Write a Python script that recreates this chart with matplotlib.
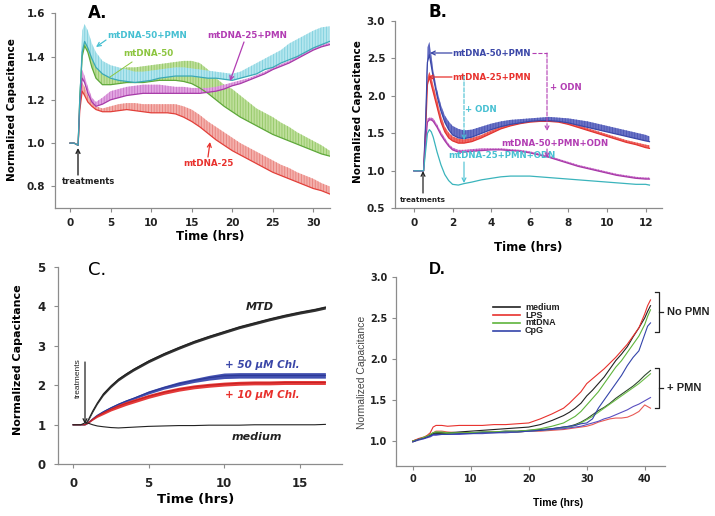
import numpy as np
import matplotlib
matplotlib.use("Agg")
import matplotlib.pyplot as plt
from matplotlib.lines import Line2D
from matplotlib.patches import FancyArrowPatch

plt.rcParams['font.family'] = ['DejaVu Sans']
plt.rcParams['font.weight'] = 'bold'
plt.rcParams['hatch.linewidth'] = 0.6

# ---------------- panel A data (mean line + upper error) ----------------
tA = [0, 0.5, 1.0, 1.2, 1.5, 1.8, 2.2, 2.7, 3.2, 4, 5, 6, 7, 8, 9, 10, 11, 12, 13,
      14, 15, 16, 17, 18, 19, 20, 21, 22, 23, 24, 25, 26, 27, 28, 29, 30, 31, 32]
a_pmn50 = [1.00, 1.00, 0.99, 1.20, 1.42, 1.47, 1.44, 1.39, 1.35, 1.32, 1.30, 1.29, 1.285,
           1.28, 1.285, 1.29, 1.30, 1.305, 1.31, 1.31, 1.31, 1.305, 1.30, 1.30, 1.295, 1.29,
           1.30, 1.31, 1.32, 1.34, 1.35, 1.37, 1.385, 1.40, 1.42, 1.44, 1.455, 1.47]
a_pmn50_hi = [1.00, 1.00, 0.99, 1.25, 1.52, 1.55, 1.52, 1.46, 1.42, 1.38, 1.36, 1.35, 1.34,
              1.33, 1.33, 1.335, 1.34, 1.345, 1.35, 1.35, 1.345, 1.34, 1.335, 1.33, 1.325,
              1.32, 1.33, 1.35, 1.37, 1.39, 1.41, 1.43, 1.46, 1.48, 1.50, 1.52, 1.535, 1.54]
a_50 = [1.00, 1.00, 0.99, 1.20, 1.40, 1.45, 1.42, 1.35, 1.30, 1.27, 1.27, 1.275, 1.28,
        1.28, 1.28, 1.285, 1.29, 1.29, 1.29, 1.285, 1.275, 1.255, 1.23, 1.20, 1.17, 1.145,
        1.12, 1.10, 1.08, 1.06, 1.04, 1.025, 1.01, 0.995, 0.98, 0.965, 0.95, 0.94]
a_50_hi = [1.00, 1.00, 0.99, 1.22, 1.44, 1.48, 1.46, 1.40, 1.35, 1.33, 1.33, 1.34, 1.35,
           1.35, 1.355, 1.36, 1.365, 1.37, 1.375, 1.38, 1.38, 1.37, 1.34, 1.30, 1.27, 1.25,
           1.22, 1.19, 1.16, 1.14, 1.12, 1.095, 1.075, 1.05, 1.03, 1.01, 0.99, 0.965]
a_pmn25 = [1.00, 1.00, 0.99, 1.18, 1.30, 1.28, 1.23, 1.19, 1.17, 1.18, 1.20, 1.21, 1.22,
           1.225, 1.23, 1.23, 1.23, 1.23, 1.23, 1.23, 1.23, 1.23, 1.235, 1.24, 1.25, 1.265,
           1.275, 1.29, 1.305, 1.32, 1.34, 1.355, 1.37, 1.39, 1.41, 1.43, 1.445, 1.455]
a_pmn25_hi = [1.00, 1.00, 0.99, 1.22, 1.34, 1.31, 1.26, 1.21, 1.19, 1.21, 1.24, 1.25, 1.26,
              1.265, 1.27, 1.27, 1.27, 1.265, 1.26, 1.26, 1.255, 1.255, 1.255, 1.26, 1.27,
              1.28, 1.29, 1.30, 1.315, 1.33, 1.35, 1.365, 1.38, 1.40, 1.42, 1.44, 1.455, 1.465]
a_25 = [1.00, 1.00, 0.99, 1.15, 1.24, 1.22, 1.19, 1.17, 1.155, 1.145, 1.145, 1.15, 1.155,
        1.15, 1.145, 1.14, 1.14, 1.14, 1.135, 1.12, 1.10, 1.075, 1.045, 1.015, 0.99, 0.965,
        0.945, 0.925, 0.905, 0.885, 0.865, 0.85, 0.835, 0.82, 0.805, 0.79, 0.78, 0.765]
a_25_hi = [1.00, 1.00, 0.99, 1.20, 1.28, 1.26, 1.22, 1.19, 1.17, 1.16, 1.17, 1.18, 1.185,
           1.185, 1.18, 1.18, 1.18, 1.18, 1.18, 1.17, 1.155, 1.13, 1.10, 1.075, 1.05, 1.025,
           1.0, 0.98, 0.96, 0.94, 0.92, 0.90, 0.885, 0.865, 0.85, 0.835, 0.815, 0.80]

# ---------------- panel B data ----------------
tB = [0, 0.3, 0.5, 0.6, 0.7, 0.8, 0.9, 1.0, 1.2, 1.4, 1.6, 1.8, 2.0, 2.3, 2.6, 3.0, 3.5,
      4, 4.5, 5, 5.5, 6, 6.5, 7, 7.5, 8, 8.5, 9, 9.5, 10, 10.5, 11, 11.5, 12, 12.2]
b_pmn50 = [1.0, 1.0, 1.0, 1.6, 2.45, 2.55, 2.40, 2.25, 2.0, 1.8, 1.65, 1.55, 1.48, 1.44,
           1.43, 1.45, 1.50, 1.55, 1.59, 1.62, 1.64, 1.66, 1.67, 1.67, 1.66, 1.64, 1.61,
           1.58, 1.55, 1.52, 1.49, 1.46, 1.43, 1.40, 1.39]
b_pmn50_hi = [1.0, 1.0, 1.0, 1.75, 2.65, 2.72, 2.55, 2.35, 2.08, 1.88, 1.74, 1.66, 1.60,
              1.56, 1.54, 1.55, 1.59, 1.63, 1.66, 1.68, 1.69, 1.70, 1.71, 1.72, 1.71, 1.70,
              1.68, 1.66, 1.63, 1.60, 1.57, 1.54, 1.51, 1.48, 1.46]
b_pmn25 = [1.0, 1.0, 1.0, 1.5, 2.15, 2.25, 2.15, 2.05, 1.85, 1.65, 1.52, 1.44, 1.40, 1.37,
           1.37, 1.39, 1.44, 1.50, 1.56, 1.60, 1.63, 1.65, 1.66, 1.66, 1.65, 1.62, 1.58,
           1.54, 1.50, 1.46, 1.42, 1.38, 1.35, 1.31, 1.30]
b_pmn25_hi = [1.0, 1.0, 1.0, 1.55, 2.25, 2.32, 2.25, 2.15, 1.95, 1.74, 1.59, 1.51, 1.46,
              1.43, 1.42, 1.44, 1.48, 1.54, 1.59, 1.63, 1.66, 1.68, 1.69, 1.69, 1.68, 1.65,
              1.61, 1.57, 1.53, 1.49, 1.45, 1.41, 1.38, 1.35, 1.34]
b_pmn50_odn = [1.0, 1.0, 1.0, 1.35, 1.65, 1.68, 1.68, 1.66, 1.58, 1.48, 1.40, 1.33, 1.28,
               1.25, 1.25, 1.26, 1.27, 1.28, 1.28, 1.27, 1.26, 1.24, 1.21, 1.18, 1.14, 1.10,
               1.06, 1.03, 1.00, 0.97, 0.94, 0.92, 0.90, 0.89, 0.89]
b_pmn50_odn_hi = [1.0, 1.0, 1.0, 1.40, 1.70, 1.71, 1.71, 1.70, 1.62, 1.52, 1.44, 1.36,
                  1.31, 1.28, 1.28, 1.29, 1.30, 1.30, 1.30, 1.29, 1.28, 1.26, 1.23, 1.20,
                  1.16, 1.12, 1.08, 1.05, 1.02, 0.99, 0.96, 0.94, 0.92, 0.91, 0.91]
b_pmn25_odn = [1.0, 1.0, 1.0, 1.25, 1.50, 1.55, 1.52, 1.45, 1.25, 1.08, 0.95, 0.87, 0.82,
               0.81, 0.83, 0.85, 0.88, 0.90, 0.92, 0.93, 0.93, 0.93, 0.92, 0.91, 0.90, 0.89,
               0.88, 0.87, 0.86, 0.85, 0.84, 0.83, 0.82, 0.82, 0.81]

# ---------------- panel C data ----------------
tC = [0, 0.5, 0.8, 1.0, 1.3, 1.6, 2.0, 2.5, 3, 3.5, 4, 5, 6, 7, 8, 9, 10, 11, 12, 13,
      14, 15, 16, 16.7]
c_mtd = [1.0, 1.0, 1.0, 1.12, 1.35, 1.55, 1.78, 1.98, 2.15, 2.28, 2.40, 2.61, 2.79, 2.95,
         3.10, 3.23, 3.35, 3.47, 3.57, 3.67, 3.76, 3.84, 3.91, 3.97]
c_mtd_err = [0.0, 0.0, 0.0, 0.02, 0.03, 0.03, 0.04, 0.04, 0.04, 0.04, 0.04, 0.04, 0.04,
             0.04, 0.04, 0.04, 0.04, 0.04, 0.04, 0.04, 0.04, 0.04, 0.04, 0.04]
c_chl50 = [1.0, 1.0, 1.0, 1.05, 1.15, 1.24, 1.33, 1.43, 1.52, 1.60, 1.67, 1.82, 1.94,
           2.04, 2.12, 2.19, 2.24, 2.25, 2.25, 2.25, 2.25, 2.25, 2.25, 2.25]
c_chl50_err = [0.0, 0.0, 0.0, 0.01, 0.02, 0.02, 0.03, 0.03, 0.03, 0.03, 0.03, 0.04, 0.04,
               0.05, 0.05, 0.06, 0.07, 0.07, 0.07, 0.07, 0.07, 0.07, 0.07, 0.07]
c_chl10 = [1.0, 1.0, 1.0, 1.05, 1.14, 1.22, 1.30, 1.39, 1.47, 1.54, 1.60, 1.72, 1.82,
           1.90, 1.96, 2.00, 2.03, 2.05, 2.06, 2.06, 2.07, 2.07, 2.07, 2.07]
c_chl10_err = [0.0, 0.0, 0.0, 0.01, 0.02, 0.03, 0.04, 0.04, 0.05, 0.05, 0.05, 0.05, 0.05,
               0.05, 0.05, 0.05, 0.05, 0.05, 0.05, 0.05, 0.05, 0.05, 0.05, 0.05]
c_medium = [1.0, 1.0, 1.05, 1.04, 1.0, 0.97, 0.95, 0.93, 0.92, 0.93, 0.94, 0.96, 0.97,
            0.98, 0.98, 0.99, 0.99, 0.99, 1.0, 1.0, 1.0, 1.0, 1.0, 1.01]

# ---------------- panel D data ----------------
tD = [0, 1, 2, 2.5, 3, 3.5, 4, 5, 6, 8, 10, 12, 14, 16, 18, 20, 22, 24, 26, 27, 28, 29,
      30, 31, 32, 33, 34, 35, 36, 37, 38, 39, 40, 40.5, 41]
d_labels = ['medium', 'LPS', 'mtDNA', 'CpG']
d_nopmn = {
    'medium': [0.99, 1.02, 1.04, 1.05, 1.07, 1.09, 1.10, 1.10, 1.10, 1.11, 1.12, 1.13, 1.14,
               1.15, 1.16, 1.17, 1.20, 1.25, 1.31, 1.35, 1.40, 1.46, 1.55, 1.62, 1.70, 1.78,
               1.88, 1.98, 2.06, 2.15, 2.27, 2.38, 2.50, 2.58, 2.65],
    'LPS': [1.0, 1.03, 1.05, 1.07, 1.10, 1.17, 1.19, 1.19, 1.18, 1.19, 1.19, 1.19, 1.20,
            1.20, 1.21, 1.22, 1.27, 1.33, 1.40, 1.46, 1.53, 1.60, 1.70, 1.76, 1.82, 1.88,
            1.95, 2.02, 2.10, 2.18, 2.28, 2.38, 2.55, 2.65, 2.72],
    'mtDNA': [1.0, 1.02, 1.05, 1.06, 1.08, 1.10, 1.11, 1.11, 1.10, 1.10, 1.10, 1.11, 1.11,
              1.12, 1.12, 1.13, 1.15, 1.18, 1.22, 1.26, 1.30, 1.36, 1.44, 1.52, 1.60, 1.70,
              1.80, 1.90, 1.98, 2.08, 2.18, 2.28, 2.42, 2.52, 2.60],
    'CpG': [0.99, 1.02, 1.03, 1.05, 1.06, 1.08, 1.08, 1.08, 1.08, 1.09, 1.09, 1.10, 1.10,
            1.11, 1.11, 1.12, 1.13, 1.15, 1.17, 1.18, 1.19, 1.21, 1.22, 1.27, 1.40, 1.50,
            1.60, 1.70, 1.80, 1.92, 2.02, 2.10, 2.30, 2.40, 2.44],
}
d_pmn = {
    'medium': [1.0, 1.02, 1.04, 1.05, 1.06, 1.08, 1.09, 1.09, 1.09, 1.10, 1.10, 1.11, 1.11,
               1.12, 1.12, 1.13, 1.14, 1.15, 1.17, 1.18, 1.20, 1.23, 1.27, 1.32, 1.37, 1.41,
               1.46, 1.52, 1.57, 1.62, 1.67, 1.73, 1.80, 1.83, 1.86],
    'LPS': [1.0, 1.02, 1.04, 1.06, 1.08, 1.10, 1.12, 1.12, 1.11, 1.10, 1.10, 1.10, 1.11,
            1.11, 1.11, 1.12, 1.12, 1.13, 1.14, 1.15, 1.16, 1.17, 1.18, 1.20, 1.23, 1.25,
            1.27, 1.28, 1.28, 1.29, 1.32, 1.36, 1.44, 1.42, 1.40],
    'mtDNA': [1.0, 1.02, 1.04, 1.06, 1.08, 1.10, 1.11, 1.10, 1.09, 1.09, 1.10, 1.10, 1.11,
              1.11, 1.11, 1.12, 1.13, 1.14, 1.16, 1.17, 1.19, 1.22, 1.26, 1.30, 1.35, 1.40,
              1.45, 1.50, 1.55, 1.60, 1.65, 1.70, 1.76, 1.79, 1.82],
    'CpG': [0.99, 1.01, 1.03, 1.04, 1.05, 1.07, 1.07, 1.08, 1.08, 1.08, 1.09, 1.09, 1.10,
            1.10, 1.11, 1.12, 1.13, 1.14, 1.15, 1.16, 1.17, 1.18, 1.20, 1.22, 1.24, 1.27,
            1.29, 1.32, 1.35, 1.38, 1.42, 1.45, 1.49, 1.51, 1.53],
}

# ---------------- layout helpers (pixel based) ----------------
W, H = 715, 516
fig = plt.figure(figsize=(W / 100, H / 100), dpi=100)
LIB = 'Liberation Sans'


def box(l, t, r, b):
    return [l / W, 1 - b / H, (r - l) / W, (b - t) / H]


def ftext(x, y, s, **kw):
    kw.setdefault('ha', 'center')
    kw.setdefault('va', 'center')
    fig.text(x / W, 1 - y / H, s, **kw)


def arrow(x0, y0, x1, y1, color, style='->', ls='-', lw=0.9):
    p = FancyArrowPatch((x0 / W, 1 - y0 / H), (x1 / W, 1 - y1 / H),
                        transform=fig.transFigure, arrowstyle=style, color=color,
                        lw=lw, ls=ls, shrinkA=0, shrinkB=0, mutation_scale=7, zorder=5)
    fig.add_artist(p)


def fline(xs, ys, color, lw=0.9, ls='-'):
    fig.add_artist(Line2D([x / W for x in xs], [1 - y / H for y in ys],
                          color=color, lw=lw, ls=ls, transform=fig.transFigure, zorder=5))


def style(ax, fs=7.5, pad=4):
    ax.set_facecolor('none')
    for s in ['top', 'right']:
        ax.spines[s].set_visible(False)
    for s in ['left', 'bottom']:
        ax.spines[s].set_color('#8c8c8c')
        ax.spines[s].set_linewidth(0.9)
    ax.tick_params(color='#8c8c8c', labelcolor='#222222', length=3, width=0.8,
                   labelsize=fs, pad=pad)


def band(ax, t, lo, hi, face, hatch, line, lw=0.9):
    ax.fill_between(t, lo, hi, facecolor=face, edgecolor=hatch, hatch='||||||',
                    linewidth=0)
    ax.plot(t, lo, color=line, lw=lw)


CYAN, GREEN, MAG, RED, BLUE = '#46c0d2', '#8cc53f', '#b23db3', '#e8312d', '#3b47a8'

# ---------------- panel A ----------------
axA = fig.add_axes(box(55, 13.3, 330, 208))
band(axA, tA, a_25, a_25_hi, '#f3b0ac', '#e8807b', '#e2403a')
band(axA, tA, a_50, a_50_hi, '#bfdf9c', '#93c866', '#5ea83a')
band(axA, tA, a_pmn25, a_pmn25_hi, '#e2a6e2', '#c873c8', '#a73aa8')
band(axA, tA, a_pmn50, a_pmn50_hi, '#b4e6ee', '#7fd0de', '#3aa9b6')
axA.set_xlim(-1.85, 32.05)
axA.set_ylim(0.7, 1.6)
axA.set_xticks([0, 5, 10, 15, 20, 25, 30])
axA.set_yticks([0.8, 1.0, 1.2, 1.4, 1.6])
axA.yaxis.set_major_formatter(plt.FormatStrFormatter('%.1f'))
style(axA)

ftext(98, 12.5, 'A.', fontsize=12)
ftext(12, 110, 'Normalized Capacitance', fontsize=7.5, rotation=90)
ftext(210, 237, 'Time (hrs)', fontsize=8.5)
ftext(147, 35, 'mtDNA-50+PMN', fontsize=6.3, color=CYAN)
arrow(106, 40, 96, 47, CYAN)
ftext(148, 53, 'mtDNA-50', fontsize=6.3, color=GREEN)
fline([132, 110], [62, 77], GREEN, lw=0.7)
ftext(247, 35, 'mtDNA-25+PMN', fontsize=6.3, color=MAG)
arrow(244, 42, 230, 81, MAG)
ftext(208, 164, 'mtDNA-25', fontsize=6.3, color=RED)
arrow(208, 157, 210, 142, RED)
ftext(88, 182, 'treatments', fontsize=6, color='#222222')
arrow(78, 175, 78, 148, '#222222', lw=1.0)

# ---------------- panel B ----------------
axB = fig.add_axes(box(395, 21, 662, 208.3))
band(axB, tB, b_pmn25, b_pmn25_hi, '#f06a66', '#e84a45', '#e23531')
band(axB, tB, b_pmn50, b_pmn50_hi, '#6a73c6', '#4b55b4', '#3b47a8')
band(axB, tB, b_pmn50_odn, b_pmn50_odn_hi, '#cf7ccf', '#b84eb8', '#a83aa8')
axB.plot(tB, b_pmn25_odn, color='#3ab4bc', lw=0.9)
axB.set_xlim(-0.98, 12.85)
axB.set_ylim(0.5, 3.0)
axB.set_xticks([0, 2, 4, 6, 8, 10, 12])
axB.set_yticks([0.5, 1.0, 1.5, 2.0, 2.5, 3.0])
axB.yaxis.set_major_formatter(plt.FormatStrFormatter('%.1f'))
style(axB)

ftext(438, 12, 'B.', fontsize=12)
ftext(358, 112, 'Normalized Capacitance', fontsize=7.5, rotation=90)
ftext(528, 247, 'Time (hrs)', fontsize=8.5)
ftext(492, 53, 'mtDNA-50+PMN', fontsize=6.2, color=BLUE)
arrow(452, 53, 430, 53, BLUE)
ftext(492, 77, 'mtDNA-25+PMN', fontsize=6.2, color=RED)
arrow(452, 77, 428, 77, RED)
ftext(566, 87, '+ ODN', fontsize=6.2, color=MAG)
fline([532, 547], [53, 53], MAG, lw=0.8, ls='--')
arrow(547, 53, 547, 131, MAG, ls='--', lw=0.8)
ftext(555, 143, 'mtDNA-50+PMN+ODN', fontsize=6.2, color=MAG)
arrow(547, 149, 547, 158, MAG, lw=0.8)
arrow(464, 76, 464, 140, CYAN, ls='--', lw=0.8)
ftext(481, 110, '+ ODN', fontsize=6.2, color=CYAN)
ftext(502, 155, 'mtDNA-25+PMN+ODN', fontsize=6.2, color=CYAN)
arrow(464, 162, 464, 183, CYAN, lw=0.8)
ftext(423, 200, 'treatments', fontsize=5.2, color='#222222')
arrow(423, 193, 423, 171, '#222222', lw=0.9)

# ---------------- panel C ----------------
axC = fig.add_axes(box(58, 266.7, 342, 464.3))
axC.fill_between(tC, np.array(c_mtd) - np.array(c_mtd_err),
                 np.array(c_mtd) + np.array(c_mtd_err), color='#333333', lw=0)
axC.plot(tC, c_mtd, color='#222222', lw=0.8)
axC.fill_between(tC, np.array(c_chl50) - np.array(c_chl50_err),
                 np.array(c_chl50) + np.array(c_chl50_err), color='#4250b0', lw=0)
axC.plot(tC, c_chl50, color='#2c3896', lw=0.8)
axC.fill_between(tC, np.array(c_chl10) - np.array(c_chl10_err),
                 np.array(c_chl10) + np.array(c_chl10_err), color='#e43a3a', lw=0)
axC.plot(tC, c_chl10, color='#c82020', lw=0.8)
axC.plot(tC, c_medium, color='#222222', lw=0.8)
axC.set_xlim(-1.0, 17.8)
axC.set_ylim(0, 5)
axC.set_xticks([0, 5, 10, 15])
axC.set_yticks([0, 1, 2, 3, 4, 5])
style(axC, fs=8.5, pad=6)

ftext(97, 270, 'C.', fontsize=13, fontweight='normal')
ftext(18, 360, 'Normalized Capacitance', fontsize=8, rotation=90)
ftext(196, 499, 'Time (hrs)', fontsize=9.5)
ftext(260, 307, 'MTD', fontsize=8, style='italic', color='#222222')
ftext(262, 365, '+ 50 \u00b5M Chl.', fontsize=7.5, style='italic', color=BLUE)
ftext(262, 395, '+ 10 \u00b5M Chl.', fontsize=7.5, style='italic', color=RED)
ftext(257, 437, 'medium', fontsize=8, style='italic', color='#222222')
ftext(78, 378, 'treatments', fontsize=6, rotation=90, fontweight='normal',
      family=LIB, color='#222222')
arrow(85, 362, 85, 424, '#222222', lw=0.9)

# ---------------- panel D ----------------
axD = fig.add_axes(box(396, 277, 665, 465.6))
d_colors = {'medium': '#222222', 'LPS': '#e8312d', 'mtDNA': '#5fb43c', 'CpG': '#3344aa'}
d_colors_pmn = {'medium': '#2f4a2f', 'LPS': '#e85a55', 'mtDNA': '#6cbd48', 'CpG': '#5a4fc0'}
for lab in d_labels:
    axD.plot(tD, d_pmn[lab], color=d_colors_pmn[lab], lw=0.8)
for lab in d_labels:
    axD.plot(tD, d_nopmn[lab], color=d_colors[lab], lw=0.8)
axD.set_xlim(-2.9, 43.5)
axD.set_ylim(0.7, 3.0)
axD.set_xticks([0, 10, 20, 30, 40])
axD.set_yticks([1.0, 1.5, 2.0, 2.5, 3.0])
axD.yaxis.set_major_formatter(plt.FormatStrFormatter('%.1f'))
style(axD, fs=7, pad=3)

for i, lab in enumerate(d_labels):
    y = 307.3 + 7.8 * i
    fline([493, 520], [y, y], d_colors[lab], lw=1.2)
    ftext(525, y, lab, fontsize=6.5, ha='left', family=LIB, color='#222222')

fline([655, 659, 659, 655], [292, 292, 332, 332], '#222222', lw=0.9)
fline([659, 663], [312, 312], '#222222', lw=0.9)
ftext(667, 312, 'No PMN', fontsize=8, ha='left', family=LIB, color='#222222')
fline([655, 659, 659, 655], [368, 368, 408, 408], '#222222', lw=0.9)
fline([659, 663], [388, 388], '#222222', lw=0.9)
ftext(667, 388, '+ PMN', fontsize=8, ha='left', family=LIB, color='#222222')

ftext(437, 270, 'D.', fontsize=12, family=LIB)
ftext(362, 372, 'Normalized Capacitance', fontsize=7.5, rotation=90, family=LIB,
      fontweight='normal', color='#444444')
ftext(558, 503, 'Time (hrs)', fontsize=7.5, family=LIB)

fig.savefig('out.png', dpi=100)
